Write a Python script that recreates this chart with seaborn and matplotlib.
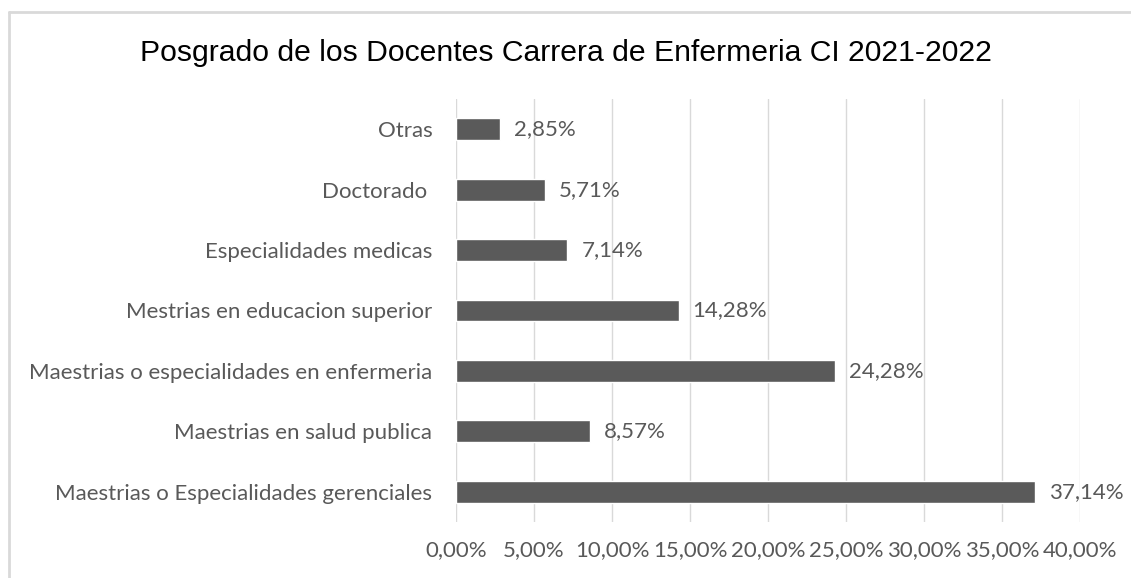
import matplotlib
matplotlib.use("Agg")
import matplotlib.pyplot as plt
from matplotlib.lines import Line2D
from matplotlib.ticker import FuncFormatter
import pandas as pd
import seaborn as sns

categories = [
    "Otras",
    "Doctorado ",
    "Especialidades medicas",
    "Mestrias en educacion superior",
    "Maestrias o especialidades en enfermeria",
    "Maestrias en salud publica",
    "Maestrias o Especialidades gerenciales",
]
values = [2.85, 5.71, 7.14, 14.28, 24.28, 8.57, 37.14]
title = "Posgrado de los Docentes Carrera de Enfermeria CI 2021-2022"

df = pd.DataFrame({"categoria": categories, "valor": values})

sns.set_style("white")
plt.rcParams["font.family"] = ["Lato", "DejaVu Sans"]

fig = plt.figure(figsize=(11.31, 5.78), dpi=100)
ax = fig.add_axes([456 / 1131, 1 - 522 / 578, (1080 - 456) / 1131, (522 - 99) / 578])

sns.barplot(data=df, x="valor", y="categoria", color="#5a5a5a", width=0.36,
            saturation=1, ax=ax, zorder=3)

ax.set_xlim(0, 40)
ax.set_xticks(range(0, 41, 5))
ax.xaxis.set_major_formatter(FuncFormatter(lambda v, p: f"{v:.2f}%".replace(".", ",")))
ax.grid(axis="x", color="#d9d9d9", linewidth=1, zorder=0)
ax.set_xlabel("")
ax.set_ylabel("")
for s in ax.spines.values():
    s.set_visible(False)
ax.tick_params(axis="both", length=0, labelcolor="#595959", labelsize=16)
ax.tick_params(axis="y", pad=17)
ax.tick_params(axis="x", pad=13)

for i, v in enumerate(values):
    ax.annotate(f"{v:.2f}%".replace(".", ","), (v, i), xytext=(10, 0),
                textcoords="offset points", va="center", ha="left",
                color="#595959", fontsize=16)

fig.text(0.5, 1 - 53 / 578, title, ha="center", va="center", fontsize=21.7,
         family="Liberation Sans", color="#000000")

# chart frame (only left and top edges visible in the crop)
fig.add_artist(Line2D([9 / 1131, 9 / 1131], [0, 1 - 12 / 578], transform=fig.transFigure,
                      color="#d9d9d9", linewidth=2))
fig.add_artist(Line2D([9 / 1131, 1], [1 - 12 / 578, 1 - 12 / 578], transform=fig.transFigure,
                      color="#d9d9d9", linewidth=2))

fig.savefig("out.png", dpi=100)
